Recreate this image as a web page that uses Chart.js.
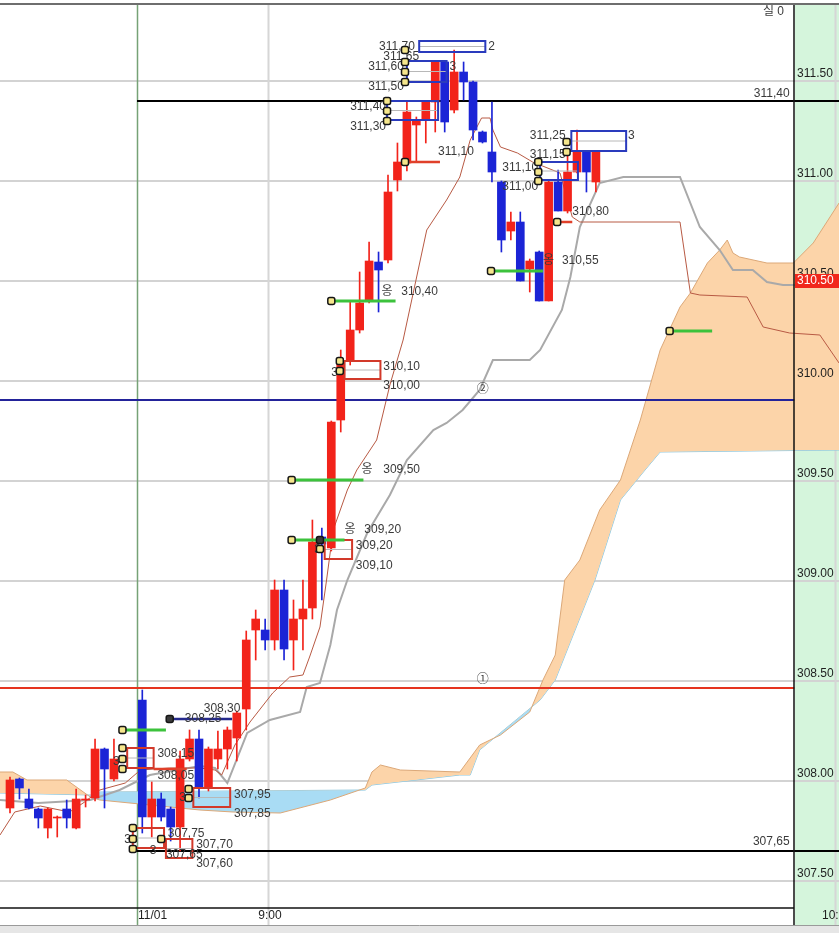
<!DOCTYPE html>
<html>
<head>
<meta charset="utf-8">
<script src="https://cdn.jsdelivr.net/npm/chart.js@4.4.0/dist/chart.umd.min.js"></script>
<style>
  html, body { margin: 0; padding: 0; background: #fff; }
  canvas { display: block; }
</style>
</head>
<body>
<canvas id="c" width="839" height="933"></canvas>
<script>
// ---- data (bar index, price) ----
const candleIdx = [0,1,2,3,4,5,6,7,8,9,10,11,
  14,15,16,17,18,19,20,21,22,23,24,25,26,27,28,29,30,31,32,33,34,35,36,37,38,39,40,
  41,42,43,44,45,46,47,48,49,50,51,52,53,54,55,56,57,58,59,60,61,62];
const openP = [307.865,308.01,307.91,307.86,307.765,307.815,307.86,307.765,307.905,307.915,308.16,308.01,
  308.405,307.82,307.91,307.86,307.77,308.11,308.21,307.965,308.11,308.16,308.215,308.36,308.755,308.755,308.705,308.955,308.705,308.81,308.865,309.22,309.165,309.805,310.105,310.255,310.405,310.595,310.605,
  311.005,311.09,311.28,311.305,311.395,311.595,311.355,311.545,311.495,311.245,311.145,310.995,310.75,310.795,310.56,310.645,310.40,310.995,310.85,311.045,311.145,310.995];
const highP = [308.02,308.015,307.96,307.865,307.865,307.825,307.905,307.96,307.93,308.21,308.165,308.21,
  308.455,307.995,307.94,307.87,308.15,308.255,308.255,308.17,308.25,308.27,308.35,308.75,308.855,308.81,309.005,309.005,308.905,309.005,309.305,309.265,309.80,310.155,310.40,310.545,310.695,310.645,311.03,
  311.19,311.40,311.32,311.40,311.60,311.60,311.655,311.595,311.50,311.25,311.395,311.0,310.845,310.845,310.61,310.65,311.0,311.055,311.145,311.255,311.15,311.15];
const lowP = [307.84,307.91,307.86,307.765,307.715,307.72,307.765,307.76,307.87,307.90,307.865,308.0,
  307.74,307.72,307.80,307.70,307.65,308.10,307.915,307.95,308.06,308.06,308.10,308.255,308.605,308.655,308.655,308.605,308.555,308.655,308.81,308.905,309.15,309.745,310.08,310.24,310.39,310.345,310.59,
  310.95,311.05,311.10,311.19,311.245,311.245,311.34,311.405,311.205,311.19,310.995,310.645,310.705,310.50,310.445,310.40,310.40,310.85,310.84,311.04,310.945,310.945];
const closeP = [308.005,307.965,307.865,307.815,307.86,307.82,307.815,307.91,307.91,308.16,308.06,308.11,
  307.82,307.91,307.82,307.77,308.11,308.21,307.965,308.16,308.16,308.255,308.34,308.705,308.81,308.705,308.955,308.66,308.81,308.86,309.195,309.185,309.795,310.095,310.255,310.39,310.60,310.555,310.945,
  311.095,311.345,311.30,311.395,311.595,311.295,311.545,311.495,311.255,311.195,311.045,310.705,310.795,310.50,310.60,310.40,310.995,310.85,311.045,311.145,311.045,311.145];

// gray line (shifted base line)
const grayIdx = [-1.06,3,8.5,11.6,14.8,20.1,21.7,23,25.1,27.5,30.7,31.4,32.8,33.9,34.6,35.7,37.8,40.2,42,44.8,46.2,47.9,49.7,51.1,55,56.1,58.4,59.3,60.3,62.4,64.9,70.9,73,75.1,76.5,78.6,80.1,81.8,87.73];
const grayP = [307.905,307.89,307.905,307.955,308.03,308.075,308.065,307.99,308.24,308.305,308.345,308.47,308.49,308.68,308.855,309.005,309.24,309.43,309.605,309.755,309.79,309.855,309.955,310.105,310.105,310.155,310.355,310.52,310.77,310.99,311.02,311.02,310.77,310.655,310.555,310.555,310.495,310.48,310.48];

// brown line (shifted conversion line)
const brownIdx = [-1.06,0.5,3.2,6.3,7.9,9.5,12.2,13.8,16.9,20.1,21.7,22.4,23.8,25.4,27.8,29.6,31,31.7,32.8,33.5,34.2,35.7,36.7,38.8,40.2,41.6,44.1,46.2,47.6,48.7,49.9,50.8,51.1,51.9,53.7,55.3,58.2,59.5,60.3,70.9,72,73,78,79.7,82.5,85.7,87.73];
const brownP = [307.73,307.845,307.875,307.845,307.895,307.955,307.99,308.055,308.065,308.065,308.055,308.03,308.18,308.295,308.44,308.52,308.53,308.62,308.77,309.005,309.255,309.455,309.555,309.705,309.98,310.205,310.755,310.905,311.02,311.205,311.315,311.315,311.255,311.17,311.14,311.095,311.04,310.82,310.795,310.795,310.44,310.43,310.42,310.27,310.24,310.23,310.09];

// cloud spans
const spanAIdx = [-1.06,0.3,1.8,6,8.5,9.5,14.8,20.1,23.6,28.6,33.9,37.6,38.3,39.2,41.3,47.6,49.7,51.9,55,56.4,57.7,58.7,60.3,62.4,64.6,66.7,68.8,70.9,72,73.8,75.1,75.9,76.5,77.2,80.1,82.9,85,87.73];
const spanAP = [308.045,308.045,308.005,308.005,307.92,307.905,307.88,307.855,307.845,307.84,307.905,307.965,308.045,308.08,308.055,308.045,308.18,308.23,308.345,308.505,308.63,309.005,309.105,309.355,309.505,309.805,310.155,310.37,310.44,310.59,310.655,310.705,310.64,310.62,310.59,310.59,310.69,310.89];
const spanBIdx = [-1.06,8.5,9.5,37.6,38.3,47.6,48.7,49.7,56.1,57.7,61.9,64.6,67.2,68.8,87.73];
const spanBP = [307.94,307.93,307.945,307.955,307.98,308.03,308.03,308.155,308.405,308.505,309.005,309.405,309.555,309.645,309.655];

// horizontal reference lines
const refLevel = [311.40, 307.65, 309.905, 308.465];
const refFrom = [13.44, 12.9, -1.06, -1.06];
const refTo = [87.73, 87.73, 83.0, 83.0];

// axis ticks
const yTicks = [307.5, 308.0, 308.5, 309.0, 309.5, 310.0, 310.5, 311.0, 311.5];
const yTickLabels = ['307.50','308.00','308.50','309.00','309.50','310.00','310.50','311.00','311.50'];
const lastPrice = 310.50;
const xTickVals = [13.44, 27.3, 87.3];
const xTickLabels = ['11/01', '9:00', '10:00'];

// annotation boxes [i1, p1, i2, p2]
const blueBoxes = [[43.3,311.70,50.3,311.645],[42,311.60,46.2,311.495],[39.9,311.40,45.3,311.305],[56.1,311.095,60.1,311.005],[59.4,311.25,65.2,311.15]];
const redBoxes = [[35.4,310.10,39.2,310.01],[33.3,309.205,36.2,309.11],[12.4,308.165,15.2,308.065],[19.4,307.965,23.3,307.87],[13,307.765,16.3,307.665],[16.5,307.71,19.3,307.615]];

// markers
const markIdx = [41.8,41.8,41.8,41.8,39.9,39.9,39.9,41.8,55.9,55.9,55.9,58.9,58.9,57.9,50.9,34,34.9,34.9,29.8,29.8,32.8,69.8,11.9,11.9,11.9,11.9,18.9,18.9,13,13,13,16];
const markP = [311.655,311.595,311.545,311.495,311.40,311.35,311.30,311.095,311.095,311.045,311.0,311.195,311.145,310.795,310.55,310.40,310.10,310.05,309.505,309.205,309.16,310.25,308.255,308.165,308.11,308.06,307.96,307.915,307.765,307.71,307.66,307.71];
const darkMarkIdx = [16.9, 32.8];
const darkMarkP = [308.31, 309.205];

// signal segments [from, to, level]
const greenSegs = [[11.9,16.5,308.255],[34,40.8,310.40],[29.8,37.4,309.505],[29.8,35.4,309.205],[50.9,56.4,310.55],[69.8,74.3,310.25]];
const redSegs = [[41.8,45.5,311.095],[57.9,59.5,310.795],[15.2,18.7,308.06]];
const navySegs = [[16.9,23.5,308.31]];

// price labels [idx, price, text]
const priceLabels = [
  [39.05,311.67,'311,70'],[39.5,311.62,'311,65'],[37.9,311.57,'311,60'],[37.9,311.47,'311,50'],
  [36,311.37,'311,40'],[36,311.27,'311,30'],[45.3,311.145,'311,10'],[55,311.225,'311,25'],
  [55,311.13,'311,15'],[52.1,311.065,'311,10'],[52.1,310.97,'311,00'],[59.5,310.845,'310,80'],
  [56.4,310.60,'옹'],[58.4,310.60,'310,55'],[39.3,310.445,'옹'],[41.4,310.445,'310,40'],
  [39.5,310.07,'310,10'],[39.5,309.975,'310,00'],[37.2,309.555,'옹'],[39.5,309.555,'309,50'],
  [35.4,309.255,'옹'],[37.5,309.255,'309,20'],[36.6,309.175,'309,20'],[36.6,309.075,'309,10'],
  [20.5,308.36,'308,30'],[18.5,308.31,'308,25'],[15.6,308.135,'308,15'],[15.6,308.025,'308,05'],
  [23.7,307.93,'307,95'],[23.7,307.835,'307,85'],[16.7,307.735,'307,75'],[19.7,307.68,'307,70'],
  [16.5,307.63,'307,65'],[19.7,307.585,'307,60'],
  [10.9,308.095,'3'],[17.9,307.915,'3'],[12.1,307.705,'3'],[14.8,307.65,'3'],[34,310.04,'3'],
  [32.2,309.155,'3'],[46.5,311.57,'3'],[50.6,311.67,'2'],[65.4,311.225,'3'],
  [49.4,308.505,'①'],[49.4,309.955,'②']
];
const rightLabels = [[82.5,311.435,'311,40'],[82.5,307.695,'307,65'],[81.9,311.845,'실 0']];

// ---- styles ----
const RED = '#f2231a';
const BLUE = '#1b24d6';
const FONT = '12px "Liberation Sans", "Noto Sans CJK KR", sans-serif';
const PANEL_LEFT = 795;

const candleColors = candleIdx.map((_, k) => closeP[k] >= openP[k] ? RED : BLUE);
const pts = (xs, ys) => xs.map((x, k) => ({ x, y: ys[k] }));

const datasets = [
  {
    type: 'bar', label: 'body', order: 0, grouped: false,
    data: candleIdx.map((x, k) => ({ x, y: [openP[k], closeP[k]] })),
    backgroundColor: candleColors, barThickness: 8, minBarLength: 1, borderWidth: 0
  },
  {
    type: 'bar', label: 'wick', order: 1, grouped: false,
    data: candleIdx.map((x, k) => ({ x, y: [lowP[k], highP[k]] })),
    backgroundColor: candleColors, barThickness: 1, borderWidth: 0
  },
  {
    type: 'line', label: 'spanA', order: 20, data: pts(spanAIdx, spanAP),
    borderColor: '#dca878', borderWidth: 1, pointRadius: 0, tension: 0,
    fill: { target: '+1', above: '#fcd4a9', below: '#a9dcf4' }
  },
  {
    type: 'line', label: 'spanB', order: 21, data: pts(spanBIdx, spanBP),
    borderColor: '#8ec6dc', borderWidth: 1, pointRadius: 0, tension: 0, fill: false
  },
  {
    type: 'line', label: 'gray', order: 10, data: pts(grayIdx, grayP),
    borderColor: '#a9a9a9', borderWidth: 2, pointRadius: 0, tension: 0, fill: false
  },
  {
    type: 'line', label: 'brown', order: 9, data: pts(brownIdx, brownP),
    borderColor: '#b85a44', borderWidth: 1, pointRadius: 0, tension: 0, fill: false
  }
];
const refColors = ['#000000', '#000000', '#23239a', '#e5341f'];
refLevel.forEach((lv, k) => {
  datasets.push({
    type: 'line', label: 'ref' + k, order: 8,
    data: [{ x: refFrom[k], y: lv }, { x: refTo[k], y: lv }],
    borderColor: refColors[k], borderWidth: 2, pointRadius: 0, fill: false
  });
});

function marker(ctx, x, y, fill) {
  ctx.save();
  ctx.fillStyle = fill;
  ctx.strokeStyle = '#151515';
  ctx.lineWidth = 1.5;
  ctx.beginPath();
  ctx.roundRect(x - 3.5, y - 3.5, 7, 7, 2);
  ctx.fill();
  ctx.stroke();
  ctx.restore();
}

const decor = {
  id: 'decor',
  beforeDraw(chart) {
    const { ctx } = chart;
    ctx.save();
    ctx.fillStyle = '#ffffff';
    ctx.fillRect(0, 0, chart.width, chart.height);
    ctx.fillStyle = '#d5f5dc';
    ctx.fillRect(PANEL_LEFT, 5, chart.width - PANEL_LEFT, 920);
    ctx.restore();
  },
  beforeDatasetsDraw(chart) {
    const { ctx, chartArea: a } = chart;
    const xs = chart.scales.x, ys = chart.scales.y;
    ctx.save();
    ctx.strokeStyle = '#d3d3d3';
    ctx.lineWidth = 2;
    yTicks.forEach(v => {
      const y = Math.round(ys.getPixelForValue(v));
      ctx.beginPath(); ctx.moveTo(a.left, y); ctx.lineTo(a.right, y); ctx.stroke();
    });
    // time grid
    xTickVals.forEach((v, k) => {
      const x = Math.round(xs.getPixelForValue(v)) + 0.5;
      ctx.strokeStyle = k === 0 ? '#76a276' : '#d6d6d6';
      ctx.lineWidth = k === 0 ? 1.5 : 2;
      ctx.beginPath(); ctx.moveTo(x, a.top); ctx.lineTo(x, a.bottom + 17); ctx.stroke();
    });
    ctx.restore();
  },
  afterDatasetsDraw(chart) {
    const { ctx, chartArea: a } = chart;
    const xs = chart.scales.x, ys = chart.scales.y;
    const X = v => xs.getPixelForValue(v);
    const Y = v => ys.getPixelForValue(v);
    ctx.save();

    // boxes
    const drawBox = (b, color) => {
      const x1 = X(b[0]), y1 = Y(b[1]), x2 = X(b[2]), y2 = Y(b[3]);
      ctx.strokeStyle = '#b8b8b8'; ctx.lineWidth = 1;
      ctx.beginPath(); ctx.moveTo(x1, (y1 + y2) / 2); ctx.lineTo(x2, (y1 + y2) / 2); ctx.stroke();
      ctx.strokeStyle = color; ctx.lineWidth = 2;
      ctx.strokeRect(x1, y1, x2 - x1, y2 - y1);
    };
    blueBoxes.forEach(b => drawBox(b, '#2a3bbd'));
    redBoxes.forEach(b => drawBox(b, '#d2392a'));

    // segments
    const drawSeg = (s, color, w) => {
      ctx.strokeStyle = color; ctx.lineWidth = w;
      ctx.beginPath(); ctx.moveTo(X(s[0]), Y(s[2])); ctx.lineTo(X(s[1]), Y(s[2])); ctx.stroke();
    };
    greenSegs.forEach(s => drawSeg(s, '#3cc23c', 3));
    redSegs.forEach(s => drawSeg(s, '#e0402a', 2.5));
    navySegs.forEach(s => drawSeg(s, '#252a8c', 2.5));

    // labels
    ctx.font = FONT;
    ctx.fillStyle = '#3a3a3a';
    ctx.textBaseline = 'middle';
    ctx.textAlign = 'left';
    priceLabels.forEach(l => ctx.fillText(l[2], X(l[0]), Y(l[1])));
    ctx.textAlign = 'right';
    rightLabels.forEach(l => ctx.fillText(l[2], X(l[0]), Y(l[1])));

    // markers
    markIdx.forEach((v, k) => marker(ctx, X(v), Y(markP[k]), '#f5e68c'));
    darkMarkIdx.forEach((v, k) => marker(ctx, X(v), Y(darkMarkP[k]), '#3a3a3a'));

    // plot frame
    ctx.strokeStyle = '#6e6e6e'; ctx.lineWidth = 2;
    ctx.beginPath(); ctx.moveTo(0, 4); ctx.lineTo(chart.width, 4); ctx.stroke();
    ctx.strokeStyle = '#111'; ctx.lineWidth = 1.5;
    ctx.beginPath(); ctx.moveTo(PANEL_LEFT - 1, a.top); ctx.lineTo(PANEL_LEFT - 1, 925); ctx.stroke();
    ctx.beginPath(); ctx.moveTo(0, a.bottom); ctx.lineTo(PANEL_LEFT - 1, a.bottom); ctx.stroke();

    // y axis labels
    ctx.textAlign = 'left';
    ctx.textBaseline = 'middle';
    ctx.fillStyle = '#1e1e1e';
    yTicks.forEach((v, k) => ctx.fillText(yTickLabels[k], PANEL_LEFT + 2, Y(v) - 7));
    const py = Y(lastPrice);
    ctx.fillStyle = '#f1281c';
    ctx.fillRect(PANEL_LEFT, py - 7, chart.width - PANEL_LEFT, 14);
    ctx.fillStyle = '#ffffff';
    ctx.fillText(lastPrice.toFixed(2), PANEL_LEFT + 2, py);

    // x axis labels
    ctx.fillStyle = '#1e1e1e';
    ctx.textBaseline = 'middle';
    xTickVals.forEach((v, k) => {
      ctx.textAlign = k === 0 ? 'left' : 'center';
      ctx.fillText(xTickLabels[k], X(v) + (k === 0 ? 1 : 2), a.bottom + 8);
    });

    // bottom strip
    ctx.fillStyle = '#e6e6e6';
    ctx.fillRect(0, 925, chart.width, 8);
    ctx.strokeStyle = '#9a9a9a'; ctx.lineWidth = 1;
    ctx.beginPath(); ctx.moveTo(0, 925.5); ctx.lineTo(chart.width, 925.5); ctx.stroke();
    ctx.restore();
  }
};

const chart = new Chart(document.getElementById('c'), {
  type: 'bar',
  data: { datasets },
  options: {
    responsive: false,
    animation: false,
    devicePixelRatio: 1,
    layout: { padding: { top: 5, bottom: 25, left: 0, right: 0 } },
    plugins: { legend: { display: false }, tooltip: { enabled: false } },
    scales: {
      x: { type: 'linear', display: false, min: -1.058, max: 87.725, offset: false },
      y: { type: 'linear', display: false, min: 307.365, max: 311.88 }
    }
  },
  plugins: [decor]
});
</script>
</body>
</html>
